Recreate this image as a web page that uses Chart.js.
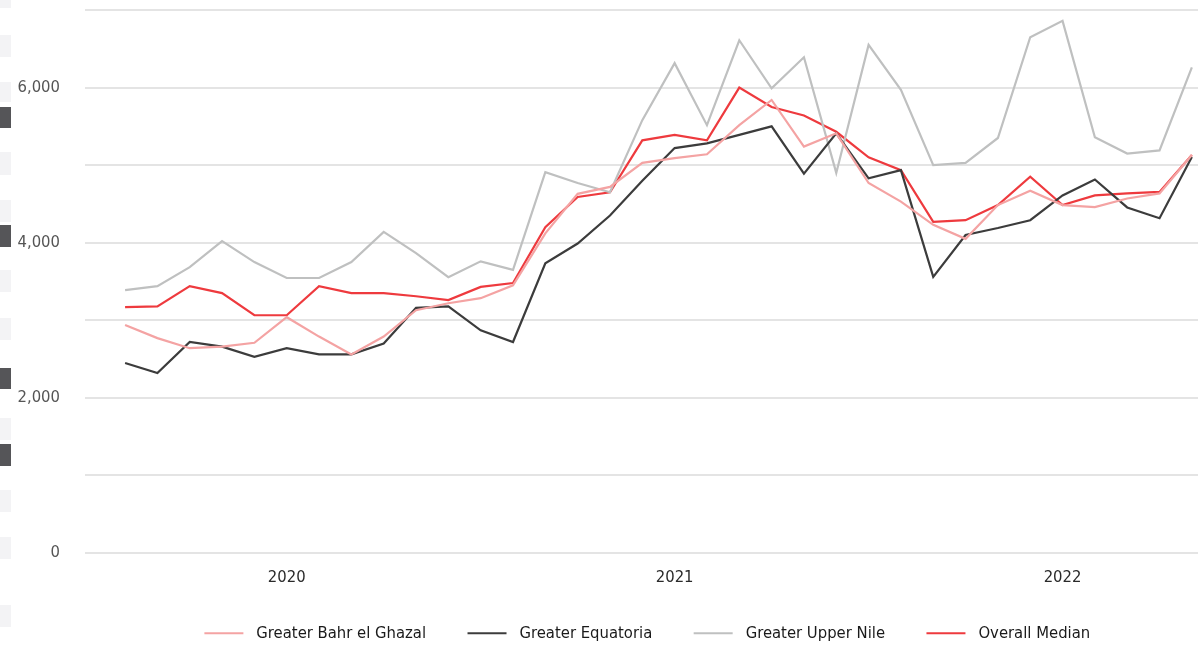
<!DOCTYPE html>
<html>
<head>
<meta charset="utf-8">
<script src="https://cdn.jsdelivr.net/npm/chart.js@4/dist/chart.umd.min.js"></script>
<style>
  html, body { margin: 0; padding: 0; background: #fff; }
  #wrap { position: relative; width: 1198px; height: 645px; }
  .blk { position: absolute; left: 0; width: 11px; background: #f3f3f5; }
  .blk.dark { background: #555558; }
</style>
</head>
<body>
<div id="wrap">
  <canvas id="myChart" width="1198" height="645"></canvas>
</div>
<script>
const months = [
  "Aug 2019", "Sep 2019", "Oct 2019", "Nov 2019", "Dec 2019",
  "Jan 2020", "Feb 2020", "Mar 2020", "Apr 2020", "May 2020", "Jun 2020",
  "Jul 2020", "Aug 2020", "Sep 2020", "Oct 2020", "Nov 2020", "Dec 2020",
  "Jan 2021", "Feb 2021", "Mar 2021", "Apr 2021", "May 2021", "Jun 2021",
  "Jul 2021", "Aug 2021", "Sep 2021", "Oct 2021", "Nov 2021", "Dec 2021",
  "Jan 2022", "Feb 2022", "Mar 2022", "Apr 2022", "May 2022",
];
const bahrElGhazal = [2940, 2770, 2640, 2660, 2710, 3040, 2790, 2560, 2790, 3130, 3220, 3285, 3450, 4120, 4630, 4720, 5030, 5090, 5140, 5515, 5840, 5240, 5410, 4770, 4530, 4230, 4050, 4485, 4670, 4485, 4460, 4570, 4635, 5130];
const equatoria = [2450, 2320, 2720, 2660, 2530, 2640, 2560, 2560, 2700, 3160, 3180, 2870, 2720, 3735, 3990, 4350, 4800, 5220, 5280, 5390, 5500, 4890, 5410, 4830, 4935, 3560, 4100, 4190, 4290, 4610, 4815, 4455, 4315, 5105];
const upperNile = [3390, 3440, 3685, 4020, 3750, 3545, 3545, 3750, 4140, 3865, 3555, 3760, 3650, 4910, 4770, 4650, 5580, 6315, 5515, 6610, 5990, 6390, 4900, 6550, 5970, 5000, 5030, 5350, 6650, 6860, 5360, 5150, 5190, 6260];
const overallMedian = [3170, 3180, 3440, 3350, 3065, 3065, 3440, 3350, 3350, 3310, 3260, 3430, 3480, 4200, 4590, 4650, 5320, 5390, 5320, 6000, 5750, 5640, 5430, 5100, 4935, 4270, 4290, 4485, 4850, 4485, 4610, 4635, 4655, 5130];
const yTicks = [0, 1000, 2000, 3000, 4000, 5000, 6000, 7000];

// little side blocks at the left edge of the reference
[[0, 8], [35, 22], [82, 20], [152, 23], [200, 22], [270, 22], [318, 22], [418, 22], [490, 22], [537, 22], [605, 22]]
  .forEach(([t, h]) => addBlock(t, h, false));
[[107, 21], [225, 22], [368, 21], [444, 22]].forEach(([t, h]) => addBlock(t, h, true));
function addBlock(top, h, dark) {
  const d = document.createElement("div");
  d.className = "blk" + (dark ? " dark" : "");
  d.style.top = top + "px";
  d.style.height = h + "px";
  document.getElementById("wrap").appendChild(d);
}

const FONT = "'Liberation Sans Narrow', 'Arial Narrow', 'DejaVu Sans Condensed', sans-serif";
const toPoints = (arr) => arr.map((v, i) => ({ x: i, y: v }));
const yearIdx = months.map((m, i) => (m.startsWith("Jan") ? i : -1)).filter((i) => i >= 0);

const series = [
  { label: "Greater Bahr el Ghazal", values: bahrElGhazal, color: "#f4a3a3" },
  { label: "Greater Equatoria", values: equatoria, color: "#3c3c3c" },
  { label: "Greater Upper Nile", values: upperNile, color: "#bfc0c0" },
  { label: "Overall Median", values: overallMedian, color: "#ee3a3e" },
];

// the legend in the reference sits a bit right of centre
const legendShift = {
  id: "legendShift",
  beforeDraw(chart) {
    chart.legend.left += 53;
    chart.legend.right += 53;
  },
};

const ctx = document.getElementById("myChart").getContext("2d");
new Chart(ctx, {
  type: "line",
  data: {
    datasets: series.map((s) => ({
      label: s.label,
      data: toPoints(s.values),
      borderColor: s.color,
      backgroundColor: s.color,
      borderWidth: 2.2,
      pointRadius: 0,
      tension: 0,
    })),
  },
  plugins: [legendShift],
  options: {
    responsive: false,
    animation: false,
    layout: { padding: { top: 10, right: 0, left: 0, bottom: 0 } },
    plugins: {
      tooltip: { enabled: false },
      legend: {
        position: "bottom",
        maxHeight: 52,
        labels: {
          boxWidth: 39,
          boxHeight: 2,
          padding: 32,
          color: "#1a1a1a",
          font: { family: FONT, size: 16.5 },
          generateLabels: (chart) =>
            Chart.defaults.plugins.legend.labels.generateLabels(chart).map((l) => ({
              ...l,
              text: " " + l.text + "  ",
              lineWidth: 0,
              fillStyle: l.strokeStyle,
            })),
        },
      },
    },
    scales: {
      x: {
        type: "linear",
        min: -1.24,
        max: 33.19,
        border: { display: false },
        grid: { display: false, drawTicks: false },
        afterBuildTicks: (scale) => {
          scale.ticks = yearIdx.map((v) => ({ value: v }));
        },
        afterFit: (scale) => { scale.height = 40; },
        ticks: {
          padding: 15,
          color: "#2a2a2a",
          font: { family: FONT, size: 16.5 },
          maxRotation: 0,
          callback: (v) => months[v].slice(4),
        },
      },
      y: {
        min: 0,
        max: 7000,
        border: { display: false },
        grid: { color: "#e4e4e4", lineWidth: 2, drawTicks: false },
        afterBuildTicks: (scale) => {
          scale.ticks = yTicks.map((v) => ({ value: v }));
        },
        afterFit: (scale) => { scale.width = 85; scale.paddingTop = 0; },
        ticks: {
          padding: 25,
          color: "#555",
          font: { family: FONT, size: 16.5 },
          callback: (v) => (v % 2000 === 0 ? v.toLocaleString("en-US") : ""),
        },
      },
    },
  },
});
</script>
</body>
</html>
